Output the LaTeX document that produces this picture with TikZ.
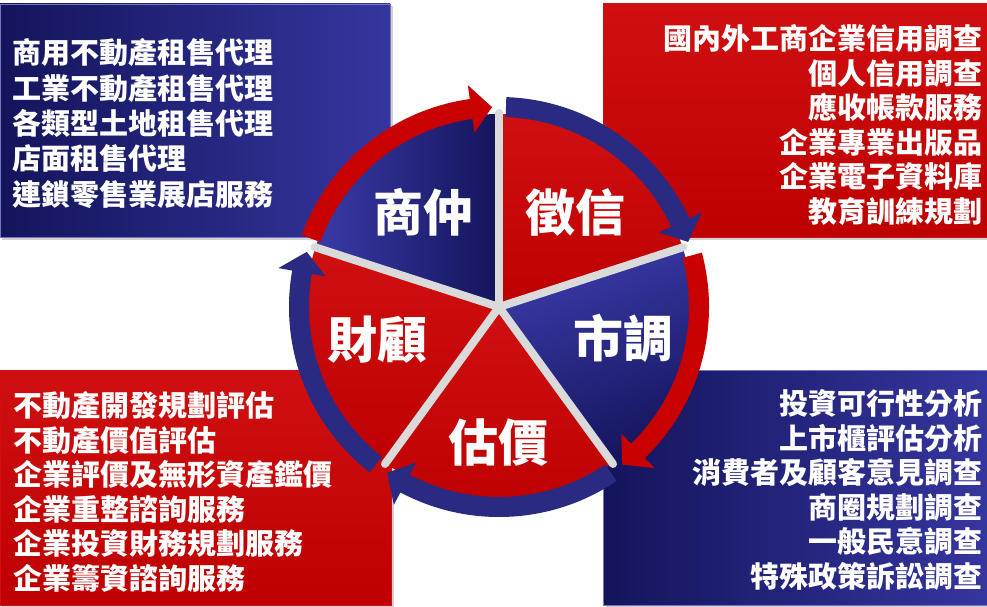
\documentclass[tikz,border=0pt]{standalone}
\usepackage{fontspec}
\newfontfamily\cjk{Noto Sans CJK TC}
\usetikzlibrary{calc}
\definecolor{rd}{HTML}{BE0000}
\definecolor{rdD}{HTML}{9E0000}
\definecolor{rdL}{HTML}{D01010}
\definecolor{nv}{HTML}{23237A}
\definecolor{nvD}{HTML}{14145C}
\definecolor{nvL}{HTML}{3A3AA8}
\definecolor{arB}{HTML}{2A2A82}
\definecolor{arR}{HTML}{C80000}
\definecolor{gp}{HTML}{DADADA}
\newcommand\ringarrow[3]{%
  \fill[#3] (#1:210pt) arc[start angle=#1, end angle={#2+6}, radius=210pt]
    -- ({#2+6}:224pt) -- (#2:200pt) -- ({#2+6}:176pt) -- ({#2+6}:190pt)
    arc[start angle={#2+6}, end angle=#1, radius=190pt] -- cycle;}
\newcommand\piesector[3]{%
  \path[#3] (0,0) -- (#1:193pt) arc[start angle=#1, end angle=#2, radius=193pt] -- cycle;}
\begin{document}
\begin{tikzpicture}[x=1pt,y=1pt,
  boxtxt/.style={text=white, inner sep=0pt, font=\cjk\bfseries\fontsize{29}{34.5}\selectfont},
  pietxt/.style={text=white, inner sep=0pt, font=\cjk\bfseries\fontsize{50}{52}\selectfont},
  shadowbox/.style={fill=black, opacity=0.18},
  bluebox/.style={left color=nvD, right color=nvL!80!nv, draw=nvL!70, line width=0.8pt},
  redbox/.style={top color=rdL, bottom color=rd, draw=rdL, line width=0.8pt},
  gapline/.style={draw=gp, line width=8pt, line cap=round}]
\useasboundingbox (0,0) rectangle (987,606);
\fill[white] (0,0) rectangle (987,606);
% shadows
\fill[shadowbox] (2,366) rectangle (393,600);
\fill[shadowbox] (606,366) rectangle (990,600);
\fill[shadowbox] (2,-2) rectangle (394,233);
\fill[shadowbox] (606,-2) rectangle (990,233);
% boxes
\path[bluebox] (0,369) rectangle (390,602);
\path[redbox] (603,369) rectangle (987,602);
\path[redbox] (0,1) rectangle (391,236);
\path[bluebox] (603,1) rectangle (987,236);
% texts
\node[boxtxt, anchor=west, align=left, font=\cjk\bfseries\fontsize{29}{35.3}\selectfont] (tl) at (12,482.5)
  {商用不動產租售代理\\工業不動產租售代理\\各類型土地租售代理\\店面租售代理\\連鎖零售業展店服務};
\node[boxtxt, anchor=east, align=right] (tr) at (983,481)
  {國內外工商企業信用調查\\個人信用調查\\應收帳款服務\\企業專業出版品\\企業電子資料庫\\教育訓練規劃};
\node[boxtxt, anchor=west, align=left] (bl) at (13,114)
  {不動產開發規劃評估\\不動產價值評估\\企業評價及無形資產鑑價\\企業重整諮詢服務\\企業投資財務規劃服務\\企業籌資諮詢服務};
\node[boxtxt, anchor=east, align=right] (br) at (983,116)
  {投資可行性分析\\上市櫃評估分析\\消費者及顧客意見調查\\商圈規劃調查\\一般民意調查\\特殊政策訴訟調查};
% pie
\begin{scope}[shift={(499,299)}]
  \piesector{18}{90}{top color=rdL, bottom color=rd}
  \piesector{90}{162}{left color=nvL, right color=nvD}
  \piesector{162}{234}{top color=rdL, bottom color=rd}
  \piesector{234}{306}{top color=rdL, bottom color=rd}
  \piesector{306}{378}{left color=nvL, right color=nvD, shading angle=20}
  \foreach \a in {18,90,162,234,306} {\draw[gapline] (0,0) -- (\a:194pt);}
  \ringarrow{160}{92}{arR}
  \ringarrow{88}{19}{arB}
  \ringarrow{15}{-52}{arR}
  \ringarrow{-56}{-124}{arB}
  \ringarrow{-128}{-196}{arB}
\end{scope}
\node[pietxt] (sz) at (423,394) {商仲};
\node[pietxt] (zx) at (575,393) {徵信};
\node[pietxt] (sd) at (623,268) {市調};
\node[pietxt] (gj) at (498,163) {估價};
\node[pietxt] (cg) at (377,266) {財顧};
\end{tikzpicture}
\end{document}
